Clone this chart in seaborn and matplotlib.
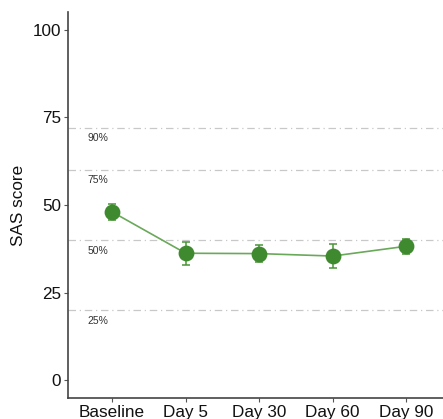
import matplotlib
matplotlib.use("Agg")
import matplotlib.pyplot as plt
import seaborn as sns
import numpy as np
import pandas as pd

timepoints = ["Baseline", "Day 5", "Day 30", "Day 60", "Day 90"]
means = [48.0, 36.2, 36.1, 35.4, 38.2]
errs = [2.2, 3.3, 2.4, 3.4, 2.2]
ref_values = [72, 60, 40, 20]
ref_labels = ["90%", "75%", "50%", "25%"]
yticks = [0, 25, 50, 75, 100]

sns.set_style("white")
plt.rcParams['font.family'] = ['Liberation Sans', 'DejaVu Sans']

df = pd.DataFrame({"time": timepoints, "score": means, "err": errs})
df["pos"] = np.arange(len(df))

fig = plt.figure(figsize=(4.43, 4.19), dpi=100)
ax = fig.add_axes([0.1535, 0.051, 0.8465, 0.92])

for v, lab in zip(ref_values, ref_labels):
    ax.axhline(v, color="#c8c8c8", lw=0.9, ls=(0, (6, 3, 1, 3)), zorder=1)
    ax.text(-0.34, v - 1.6, lab, fontsize=7.5, color="#333333", va="top", ha="left")

sns.lineplot(data=df, x="pos", y="score", ax=ax, color="#6aa85a", lw=1.2, zorder=2)
ax.errorbar(df["pos"], df["score"], yerr=df["err"], fmt="none", ecolor="#4a9438",
            elinewidth=1.1, capsize=3, capthick=1.1, zorder=3)
sns.scatterplot(data=df, x="pos", y="score", ax=ax, color="#3f8a2f", s=130,
                edgecolor="#3f8a2f", linewidth=0, zorder=4)

ax.set_xlim(-0.6, 4.5)
ax.set_ylim(-5, 105)
ax.set_xticks(df["pos"])
ax.set_xticklabels(timepoints)
ax.set_yticks(yticks)
ax.set_xlabel("")
ax.set_ylabel("SAS score", fontsize=12.3, color="#111111", labelpad=5)
ax.tick_params(axis="both", labelsize=12.3, labelcolor="#111111", length=3,
               width=0.8, color="#555555", direction="out", bottom=True, left=True, pad=2)
for s in ["top", "right"]:
    ax.spines[s].set_visible(False)
for s in ["left", "bottom"]:
    ax.spines[s].set_color("#444444")
    ax.spines[s].set_linewidth(1.2)

fig.savefig("out.png", dpi=100)
